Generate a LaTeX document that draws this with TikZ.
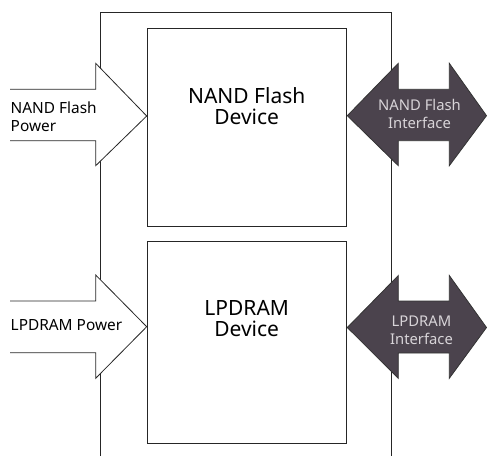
\documentclass[tikz,border=0pt]{standalone}
\usepackage{fontspec}
\setmainfont{Noto Sans}
\definecolor{ifill}{HTML}{4B434D}
\definecolor{itext}{HTML}{D8D4D8}
\begin{document}
\begin{tikzpicture}[x=1pt,y=-1pt,
  ln/.style={line width=0.8pt,draw=black!85},
  devbox/.style={ln,fill=white},
  pwrarrow/.style={ln,fill=white},
  ifarrow/.style={line width=0.8pt,draw=black!80,fill=ifill},
  bigtxt/.style={align=center,inner sep=0pt,font=\fontsize{21}{21}\selectfont},
  pwrtxt/.style={align=left,inner sep=0pt,font=\fontsize{15.4}{17.7}\selectfont,anchor=west},
  iftxt/.style={align=center,inner sep=0pt,text=itext,font=\fontsize{14.8}{17.6}\selectfont}]
\useasboundingbox (0,0) rectangle (487,456);
% outer frame (open at bottom)
\draw[ln] (100,456) -- (100,12) -- (391.7,12) -- (391.7,456);
% device boxes
\draw[devbox] (147.7,28.3) rectangle (346.7,226.7);
\draw[devbox] (147.7,241) rectangle (346.7,443.3);
% power arrows
\filldraw[pwrarrow] (10,89.3) -- (95.7,89.3) -- (95.7,63.3) -- (146.7,116) -- (95.7,165.7) -- (95.7,140.7) -- (10,140.7);
\filldraw[pwrarrow] (10,301) -- (95.7,301) -- (95.7,275) -- (146.7,326.7) -- (95.7,378.3) -- (95.7,352.7) -- (10,352.7);
% interface arrows
\filldraw[ifarrow] (347.3,115.7) -- (398.3,63.3) -- (398.3,89.3) -- (449.3,89.3) -- (449.3,63.3) -- (486.5,115.7) -- (449.3,165.7) -- (449.3,140.7) -- (398.3,140.7) -- (398.3,165.7) -- cycle;
\filldraw[ifarrow] (347.3,327.5) -- (398.3,275.5) -- (398.3,301) -- (449.3,301) -- (449.3,275.5) -- (486.5,327.5) -- (449.3,378.3) -- (449.3,353) -- (398.3,353) -- (398.3,378.3) -- cycle;
% labels
\node[bigtxt] (nandtxt) at (246.7,106.3) {NAND Flash\\Device};
\node[bigtxt] (dramtxt) at (246.7,318.5) {LPDRAM\\Device};
\node[pwrtxt] (nandpwr) at (10.5,117) {NAND Flash\\Power};
\node[pwrtxt] (drampwr) at (10.5,325) {LPDRAM Power};
\node[iftxt] (nandif) at (419.5,114) {NAND Flash\\Interface};
\node[iftxt] (dramif) at (421.5,330.5) {LPDRAM\\Interface};
\end{tikzpicture}
\end{document}
